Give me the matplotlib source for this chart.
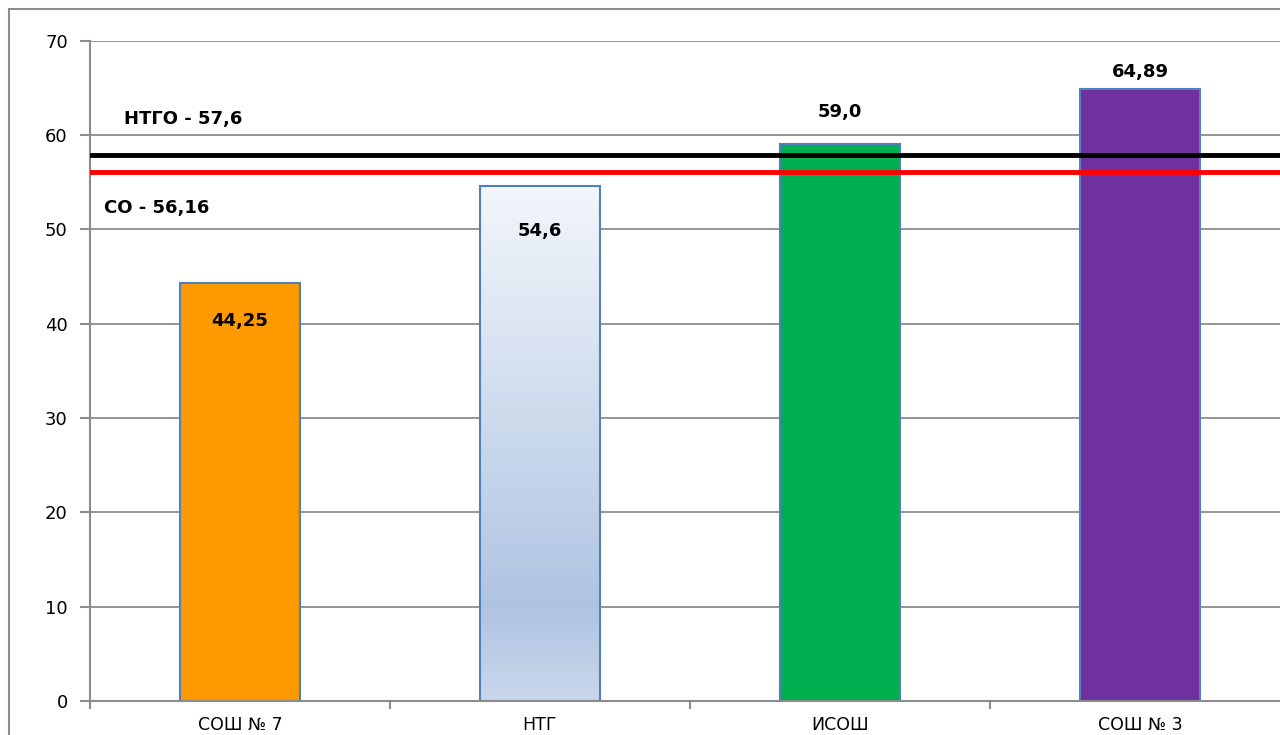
import matplotlib
matplotlib.use('Agg')
import matplotlib.pyplot as plt
import matplotlib.patches as patches
from matplotlib.colors import LinearSegmentedColormap
import numpy as np

# data
schools = ['СОШ № 7', 'НТГ', 'ИСОШ', 'СОШ № 3']
scores = [44.25, 54.6, 59.0, 64.89]
score_labels = ['44,25', '54,6', '59,0', '64,89']
ntgo_level = 57.9
so_level = 56.1
ntgo_text = 'НТГО - 57,6'
so_text = 'СО - 56,16'

colors = ['#ff9900', None, '#00b050', '#7030a0']
grid_gray = '#8c8c8c'

fig = plt.figure(figsize=(12.8, 7.35), dpi=100)
ax = fig.add_axes([90 / 1280, 1 - 701 / 735, 1200 / 1280, 660.5 / 735])

# outer chart frame (cut off on right/bottom like the source)
frame = patches.Rectangle((9 / 1280, -0.1), 2.0, 1 - 9 / 735 + 0.1,
                          transform=fig.transFigure, fill=False,
                          edgecolor=grid_gray, linewidth=1.5)
fig.patches.append(frame)

x = np.arange(len(schools))

for y in range(10, 71, 10):
    ax.axhline(y, color=grid_gray, linewidth=1.3, zorder=0)

bars = ax.bar(x, scores, width=0.4, edgecolor='#4f81bd', linewidth=1.5, zorder=2)
for b, c in zip(bars, colors):
    if c is None:
        b.set_facecolor('none')
        cmap = LinearSegmentedColormap.from_list(
            'ntg', [(0, '#f3f6fb'), (0.82, '#afc4e1'), (1.0, '#c9d7eb')])
        grad = np.linspace(0, 1, 256).reshape(-1, 1)
        bx, by = b.get_x(), b.get_y()
        im = ax.imshow(grad, cmap=cmap, aspect='auto', origin='upper',
                       extent=[bx, bx + b.get_width(), by, by + b.get_height()],
                       zorder=1.9)
        im.set_clip_path(b)
    else:
        b.set_facecolor(c)
ax.set_xlim(-0.5, len(schools) - 0.5)
ax.set_ylim(0, 70)

# reference lines
ax.axhline(ntgo_level, color='black', linewidth=3.5, zorder=3)
ax.axhline(so_level, color='#ff0000', linewidth=3.5, zorder=3)

lab_font = dict(family=['DejaVu Sans'], fontweight='bold',
                fontsize=13, color='black')
ax.text(-0.385, 61.7, ntgo_text, ha='left', va='center', **lab_font)
ax.text(-0.455, 52.2, so_text, ha='left', va='center', **lab_font)

# value labels
label_y = [40.3, 49.8, 62.4, 66.7]
for xi, ly, t in zip(x, label_y, score_labels):
    ax.text(xi, ly, t, ha='center', va='center', zorder=4, **lab_font)

ax.set_xticks(x)
ax.set_xticklabels(schools, fontsize=12.5, family='DejaVu Sans')
ax.set_xticks(np.arange(-0.5, len(schools), 1), minor=True)
ax.tick_params(axis='x', which='major', length=0, pad=11)
ax.tick_params(axis='x', which='minor', length=6, color=grid_gray, width=1.5)
ax.set_yticks(range(0, 71, 10))
ax.tick_params(axis='y', length=7, color=grid_gray, width=1.5, labelsize=13, pad=9)

for s in ['top', 'right']:
    ax.spines[s].set_visible(False)
for s in ['left', 'bottom']:
    ax.spines[s].set_color(grid_gray)
    ax.spines[s].set_linewidth(1.5)

fig.savefig('out.png', dpi=100)
